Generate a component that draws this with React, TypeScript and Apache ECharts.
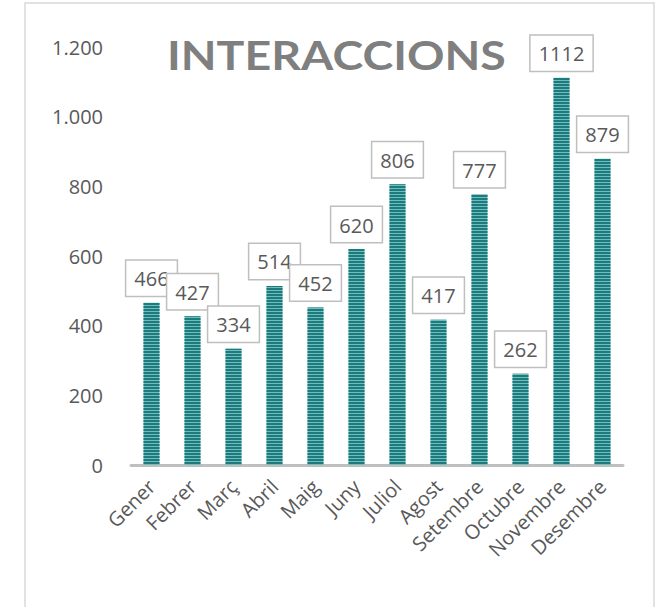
import React, { useEffect, useRef } from "react";
import * as echarts from "echarts";

const months = ["Gener", "Febrer", "Març", "Abril", "Maig", "Juny", "Juliol", "Agost", "Setembre", "Octubre", "Novembre", "Desembre"];
const interaccions = [466, 427, 334, 514, 452, 620, 806, 417, 777, 262, 1112, 879];
const yMin = 0;
const yMax = 1200;
const yStep = 200;
const titleText = "INTERACCIONS";

const fmtThousands = (v: number) => String(v).replace(/\B(?=(\d{3})+(?!\d))/g, ".");

const TITLE_FONT = "bold 41px Lato";
const TITLE_WIDTH = 339;

function measure(text: string, font: string): number {
  try {
    const ctx = document.createElement("canvas").getContext("2d");
    if (!ctx) return TITLE_WIDTH;
    ctx.font = font;
    return ctx.measureText(text).width || TITLE_WIDTH;
  } catch (e) {
    return TITLE_WIDTH;
  }
}

export default function App() {
  const ref = useRef<HTMLDivElement>(null);
  useEffect(() => {
    if (!ref.current) return;
    const chart = echarts.init(ref.current, null, { renderer: "svg" });
    const w = measure(titleText, TITLE_FONT);
    const sx = TITLE_WIDTH / w;
    chart.setOption({
      animation: false,
      backgroundColor: "#ffffff",
      textStyle: { fontFamily: "Open Sans" },
      graphic: [
        {
          type: "rect",
          shape: { x: 25, y: 3, width: 629, height: 640 },
          style: { fill: "none", stroke: "#d9d9d9", lineWidth: 1.5 },
          silent: true,
        },
        {
          type: "text",
          x: 167,
          y: 54,
          scaleX: sx,
          scaleY: 1,
          silent: true,
          style: {
            text: titleText,
            fill: "#7f7f7f",
            font: TITLE_FONT,
            textVerticalAlign: "middle",
            verticalAlign: "middle",
          },
        },
      ],
      grid: { left: 131, right: 37, top: 47, bottom: 142 },
      xAxis: {
        type: "category",
        data: months,
        axisLine: { lineStyle: { color: "#bfbfbf", width: 3 } },
        axisTick: { show: false },
        axisLabel: { rotate: 45, fontSize: 20, color: "#595959", margin: 18, interval: 0, fontFamily: "Open Sans" },
      },
      yAxis: {
        type: "value",
        min: yMin,
        max: yMax,
        interval: yStep,
        splitLine: { show: false },
        axisLine: { show: false },
        axisTick: { show: false },
        axisLabel: { fontSize: 20, color: "#595959", margin: 28, fontFamily: "Open Sans", formatter: (v: number) => fmtThousands(v) },
      },
      series: [
        {
          type: "bar",
          data: interaccions,
          barWidth: 16,
          itemStyle: {
            color: "#6fbdbd",
            decal: {
              symbol: "rect",
              symbolSize: 1,
              color: "#1e7b7d",
              dashArrayX: [1, 0],
              dashArrayY: [2, 1],
              rotation: 0,
            },
          },
          label: {
            show: true,
            position: "top",
            distance: 7,
            fontSize: 20,
            fontFamily: "Open Sans",
            color: "#595959",
            backgroundColor: "#ffffff",
            borderColor: "#bfbfbf",
            borderWidth: 1.5,
            padding: [8, 8, 7, 8],
          },
        },
      ],
    });
    return () => chart.dispose();
  }, []);
  return <div ref={ref} style={{ position: "fixed", left: 0, top: 0, width: 660, height: 607 }} />;
}
